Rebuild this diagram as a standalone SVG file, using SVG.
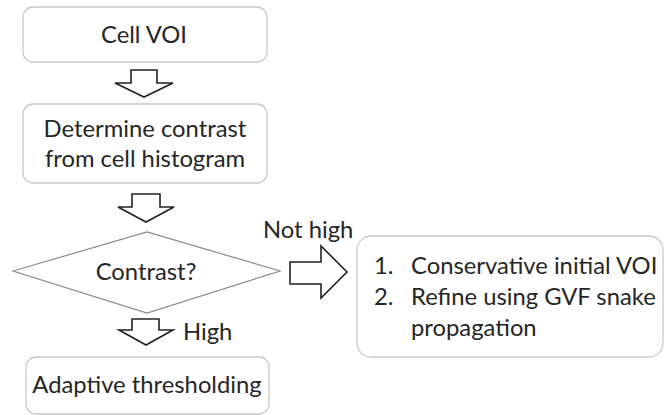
<svg xmlns="http://www.w3.org/2000/svg" width="664" height="415" viewBox="0 0 664 415">
<style>
.box{fill:#fff;stroke:#c8c8c8;stroke-width:1.3}
.dia{fill:#fff;stroke:#8a8a8a;stroke-width:1.2}
.arr{fill:#fff;stroke:#222;stroke-width:1.6;stroke-linejoin:miter}
text{font-family:Lato,"Open Sans","Liberation Sans",sans-serif;font-size:23.8px;fill:#262626}
.c{text-anchor:middle}
</style>
<rect width="664" height="415" fill="#fff"/>
<g id="cell-voi">
<rect class="box" x="23" y="7" width="244" height="55" rx="10"/>
<text class="c" x="144" y="43">Cell VOI</text>
</g>
<g id="determine-contrast">
<rect class="box" x="23" y="104" width="244" height="79" rx="10"/>
<text class="c" x="145" y="137">Determine contrast</text>
<text class="c" x="145" y="167">from cell histogram</text>
</g>
<g id="contrast-decision">
<polygon class="dia" points="13,271 147,232 280,271 147,313"/>
<text class="c" x="146" y="280">Contrast?</text>
</g>
<g id="adaptive-thresholding">
<rect class="box" x="26" y="357" width="243" height="57" rx="10"/>
<text class="c" x="147" y="393">Adaptive thresholding</text>
</g>
<g id="gvf-refinement">
<rect class="box" x="357" y="236" width="306" height="121" rx="14"/>
<text x="374" y="274">1.</text>
<text x="411" y="274">Conservative initial VOI</text>
<text x="374" y="305">2.</text>
<text x="411" y="305">Refine using GVF snake</text>
<text x="411" y="336">propagation</text>
</g>
<g id="connectors">
<polygon class="arr" points="131,70 157,70 157,83 173,83 144,97 115,83 131,83"/>
<polygon class="arr" points="132,194 160,194 160,207 174,207 146,222 118,207 132,207"/>
<polygon class="arr" points="132,319 159,319 159,330 173,330 146,345 119,330 132,330"/>
<polygon class="arr" points="290,262 321,262 321,246 347,272 321,298 321,284 290,284"/>
<text x="263" y="238">Not high</text>
<text x="183" y="340">High</text>
</g>
</svg>
